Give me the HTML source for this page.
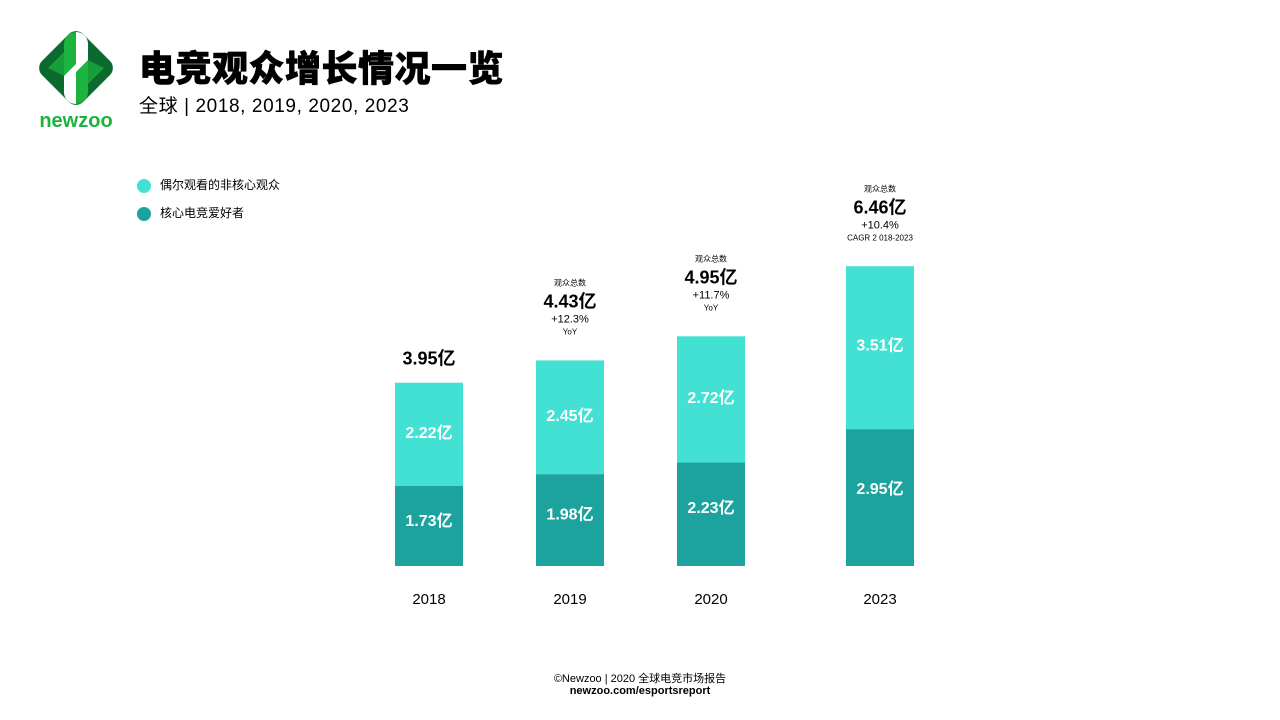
<!DOCTYPE html>
<html><head><meta charset="utf-8"><style>
body{margin:0;width:1280px;height:720px;background:#fff;font-family:"Liberation Sans","Noto Sans CJK SC",sans-serif;position:relative;overflow:hidden}
.t{position:absolute;white-space:nowrap}
</style></head><body>
<svg style="position:absolute;left:34px;top:26px" width="86" height="106" viewBox="0 0 86 106">
<rect x="13" y="13" width="58" height="58" rx="10" transform="rotate(45 42 42)" fill="#0b6b2e"/>
<rect x="30" y="6" width="24" height="72" rx="12" fill="#1db33f"/>
<path d="M42 6 a12 12 0 0 1 12 12 L54 34 L42 46 Z" fill="#fff"/>
<path d="M42 78 a12 12 0 0 1 -12 -12 L30 50 L42 38 Z" fill="#fff"/>
<path d="M14 42 L30 26 L30 50 Z" fill="#1db33f" opacity="0.7"/>
<path d="M70 42 L54 58 L54 34 Z" fill="#1db33f" opacity="0.7"/>
<text x="42" y="101" text-anchor="middle" font-family="Liberation Sans" font-weight="bold" font-size="20" fill="#1db33f">newzoo</text>
</svg>
<div class="t" style="left:139px;top:40px;font-size:36px;font-weight:900;letter-spacing:0.5px;color:#000;-webkit-text-stroke:0.6px #000">电竞观众增长情况一览</div>
<div class="t" style="left:139px;top:91px;font-size:19px;letter-spacing:0.6px;color:#000">全球 | 2018, 2019, 2020, 2023</div>
<div class="t" style="left:137px;top:176px;font-size:12px"><span style="display:inline-block;width:14px;height:14px;border-radius:50%;background:#43e1d4;vertical-align:middle;margin-right:9px"></span>偶尔观看的非核心观众</div>
<div class="t" style="left:137px;top:204px;font-size:12px"><span style="display:inline-block;width:14px;height:14px;border-radius:50%;background:#1ca39e;vertical-align:middle;margin-right:9px"></span>核心电竞爱好者</div>
<svg id="chart" style="position:absolute;left:0;top:0" width="1280" height="720"></svg>
<div class="t" style="left:0;width:1280px;text-align:center;top:670px;font-size:11px">©Newzoo | 2020 全球电竞市场报告</div>
<div class="t" style="left:0;width:1280px;text-align:center;top:685px;font-size:11px;font-weight:bold">newzoo.com/esportsreport</div>
<script>
const years=["2018","2019","2020","2023"];
const core=[1.73,1.98,2.23,2.95];
const casual=[2.22,2.45,2.72,3.51];
const totals=["3.95亿","4.43亿","4.95亿","6.46亿"];
const growth=["","+12.3%","+11.7%","+10.4%"];
const growthLabel=["","YoY","YoY","CAGR 2 018-2023"];
const centers=[429,570,711,880];
const base=566,scale=46.4,bw=68;
const y=v=>base-v*scale;
const svg=document.getElementById('chart');
const NS='http://www.w3.org/2000/svg';
function mk(t,a,txt){const e=document.createElementNS(NS,t);for(const k in a)e.setAttribute(k,a[k]);if(txt!==undefined)e.textContent=txt;svg.appendChild(e);return e;}
years.forEach((yr,i)=>{
 const cx=centers[i],x=cx-bw/2,tot=core[i]+casual[i];
 let r=mk('rect',{x:x,y:y(core[i]),width:bw,height:core[i]*scale,fill:'#1ca39e'});
 
 
 r=mk('rect',{x:x,y:y(tot),width:bw,height:casual[i]*scale,fill:'#43e1d4'});
 
 
 let t=mk('text',{x:cx,y:y(core[i]*0.57)+6,'text-anchor':'middle','font-size':16,'font-weight':'bold',fill:'#fff'},core[i].toFixed(2)+'亿');
 
 
 t=mk('text',{x:cx,y:y(core[i]+casual[i]*0.52)+6,'text-anchor':'middle','font-size':16,'font-weight':'bold',fill:'#fff'},casual[i].toFixed(2)+'亿');
 
 
 t=mk('text',{x:cx,y:604,'text-anchor':'middle','font-size':15,fill:'#000'},yr);
 
 
 const top=y(tot);
 if(growth[i]){
  t=mk('text',{x:cx,y:top-75,'text-anchor':'middle','font-size':8,fill:'#000'},'观众总数');
  
  
  t=mk('text',{x:cx,y:top-53,'text-anchor':'middle','font-size':18,'font-weight':'bold',fill:'#000'},totals[i]);
  
  
  t=mk('text',{x:cx,y:top-38,'text-anchor':'middle','font-size':11,fill:'#000'},growth[i]);
  
  
  t=mk('text',{x:cx,y:top-26,'text-anchor':'middle','font-size':8,fill:'#000'},growthLabel[i]);
  
  
 } else {
  t=mk('text',{x:cx,y:top-18,'text-anchor':'middle','font-size':18,'font-weight':'bold',fill:'#000'},totals[i]);
  
  
 }
});
</script>
</body></html>
